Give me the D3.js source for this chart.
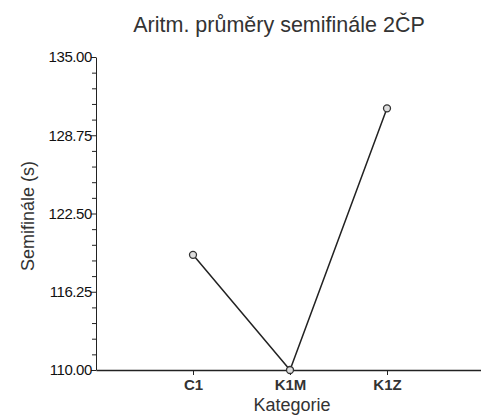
<!DOCTYPE html>
<html>
<head>
<meta charset="utf-8">
<script src="https://cdn.jsdelivr.net/npm/d3@7"></script>
<style>
  body { margin: 0; background: #fff; }
  text { font-family: "Liberation Sans", Arial, sans-serif; fill: #222; }
</style>
</head>
<body>
<div id="chart"></div>
<script>
var width = 481;
var height = 418;

// data
var categories = ["C1", "K1M", "K1Z"];
var means = [119.2, 110.0, 130.9];
var yTicks = [110, 116.25, 122.5, 128.75, 135];

var svg = d3.select("#chart").append("svg").attr("width", width).attr("height", height);

var x = d3.scalePoint().domain(categories).range([96, 484]).padding(1);
var y = d3.scaleLinear().domain([110, 135]).range([370, 57]);

// minor ticks on y
var minor = d3.range(110, 135.01, 1.25).filter(function(v) { return yTicks.indexOf(+v.toFixed(2)) < 0; });
svg.append("g").attr("transform", "translate(96,0)")
  .call(d3.axisLeft(y).tickValues(minor).tickSize(4).tickFormat(""))
  .call(function(g) { g.select(".domain").remove(); g.selectAll("line").attr("stroke", "#222"); });

svg.append("g").attr("transform", "translate(96,0)")
  .call(d3.axisLeft(y).tickValues(yTicks).tickSize(5).tickSizeOuter(0).tickFormat(d3.format(".2f")))
  .call(function(g) {
    g.select(".domain").attr("stroke", "#222");
    g.selectAll("line").attr("stroke", "#222");
    g.selectAll("text").style("font-size", "15px").attr("x", -4).style("letter-spacing", "-0.4px").style("fill", "#111");
  });

svg.append("g").attr("transform", "translate(0,370)")
  .call(d3.axisBottom(x).tickSize(5).tickSizeOuter(0))
  .call(function(g) {
    g.select(".domain").attr("stroke", "#222").attr("stroke-width", 1.3);
    g.selectAll("line").attr("stroke", "#222");
    g.selectAll("text").style("font-size", "15px").attr("y", 9).style("font-weight", "bold").style("fill", "#333");
  });

var pts = categories.map(function(c, i) { return { cat: c, v: means[i] }; });

svg.append("path")
  .datum(pts)
  .attr("fill", "none")
  .attr("stroke", "#222")
  .attr("stroke-width", 1.5)
  .attr("d", d3.line().x(function(d) { return x(d.cat); }).y(function(d) { return y(d.v); }));

svg.selectAll(".pt").data(pts).join("circle")
  .attr("class", "pt")
  .attr("cx", function(d) { return x(d.cat); })
  .attr("cy", function(d) { return y(d.v); })
  .attr("r", 3.5)
  .attr("fill", "#ddd")
  .attr("stroke", "#333")
  .attr("stroke-width", 1.3);

svg.append("text").attr("x", 279).attr("y", 32).attr("text-anchor", "middle")
  .style("font-size", "21.5px").style("fill", "#333").text("Aritm. průměry semifinále 2ČP");

svg.append("text").attr("x", 292).attr("y", 411).attr("text-anchor", "middle")
  .style("font-size", "18px").style("fill", "#333").text("Kategorie");

svg.append("text").attr("transform", "translate(34,216) rotate(-90)").attr("text-anchor", "middle")
  .style("font-size", "18px").style("fill", "#333").text("Semifinále (s)");
</script>
</body>
</html>
